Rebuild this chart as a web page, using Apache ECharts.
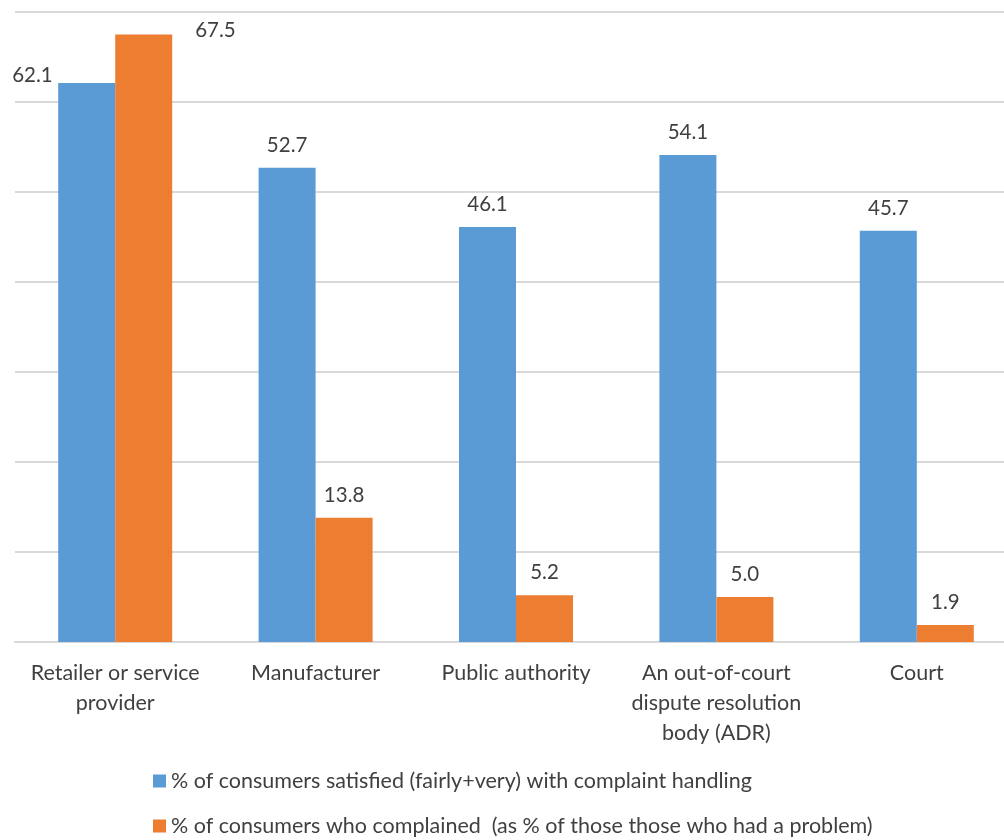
<!DOCTYPE html>
<html>
<head>
<meta charset="utf-8">
<script src="https://cdn.jsdelivr.net/npm/echarts@6/dist/echarts.min.js"></script>
<style>
  html, body { margin: 0; padding: 0; background: #fff; }
  #chart { width: 1004px; height: 840px; }
</style>
</head>
<body>
<div id="chart"></div>
<script>
let categories = [
    "Retailer or service\nprovider",
    "Manufacturer",
    "Public authority",
    "An out-of-court\ndispute resolution\nbody (ADR)",
    "Court"
];
let satisfied = [62.1, 52.7, 46.1, 54.1, 45.7];
let complained = [67.5, 13.8, 5.2, 5.0, 1.9];
let seriesNames = [
    "% of consumers satisfied (fairly+very) with complaint handling",
    "% of consumers who complained  (as % of those those who had a problem)"
];

let chart = echarts.init(document.getElementById("chart"));
let font = "Lato, 'Open Sans', sans-serif";
let textColor = "#404040";

function labelFmt(p) {
    return p.value.toFixed(1);
}

// the first pair has hand-placed labels, like the original
let blueData = satisfied.map((v, i) => i === 0
    ? { value: v, label: { position: [-46, -18] } }
    : v);
let orangeData = complained.map((v, i) => i === 0
    ? { value: v, label: { position: [80, -15] } }
    : v);

let baseLabel = {
    show: true,
    position: "top",
    distance: 12,
    formatter: labelFmt,
    color: textColor,
    fontFamily: font,
    fontSize: 20.5
};

chart.setOption({
    animation: false,
    grid: { left: 15, width: 1002, top: 12, bottom: 198, outerBoundsMode: "none", containLabel: false },
    legend: {
        orient: "vertical",
        left: 153,
        top: 770,
        padding: 0,
        itemWidth: 13,
        itemHeight: 13,
        itemGap: 23,
        icon: "rect",
        textStyle: { color: textColor, fontFamily: font, fontSize: 21.5 },
        data: seriesNames
    },
    xAxis: {
        type: "category",
        data: categories,
        axisLine: { lineStyle: { color: "#d9d9d9", width: 2 } },
        axisTick: { show: false },
        axisLabel: {
            color: textColor,
            fontFamily: font,
            fontSize: 21.5,
            lineHeight: 30,
            margin: 16,
            interval: 0
        }
    },
    yAxis: {
        type: "value",
        min: 0,
        max: 70,
        interval: 10,
        axisLabel: { show: false },
        axisLine: { show: false },
        axisTick: { show: false },
        splitLine: { lineStyle: { color: "#d9d9d9", width: 2 } }
    },
    series: [
        {
            name: seriesNames[0],
            type: "bar",
            barWidth: 57,
            barGap: "0%",
            itemStyle: { color: "#5B9BD5" },
            label: baseLabel,
            data: blueData
        },
        {
            name: seriesNames[1],
            type: "bar",
            barWidth: 57,
            barGap: "0%",
            itemStyle: { color: "#ED7D31" },
            label: baseLabel,
            data: orangeData
        }
    ]
});
</script>
</body>
</html>
